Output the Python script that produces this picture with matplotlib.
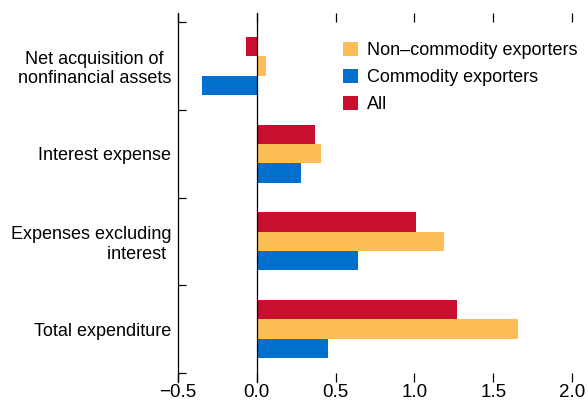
import numpy as np
import matplotlib
matplotlib.use("Agg")
import matplotlib.pyplot as plt
from matplotlib.lines import Line2D

plt.rcParams['font.family'] = ['Liberation Sans', 'DejaVu Sans']

# categories from bottom to top
categories = ['Total expenditure', 'Expenses excluding\ninterest ',
              'Interest expense', 'Net acquisition of\nnonfinancial assets']
label_align = ['center', 'right', 'center', 'center']
all_vals = [1.27, 1.01, 0.37, -0.07]
noncomm_vals = [1.66, 1.19, 0.41, 0.06]
comm_vals = [0.45, 0.64, 0.28, -0.35]
xticks = [-0.5, 0.0, 0.5, 1.0, 1.5, 2.0]
xticklabels = ['\u22120.5', '0.0', '0.5', '1.0', '1.5', '2.0']

red = '#C8102E'
yellow = '#FDBE57'
blue = '#0070CE'

fig = plt.figure(figsize=(5.88, 4.03), dpi=100)
ax = fig.add_axes([178 / 588, 1 - 373 / 403, (572 - 178) / 588, (373 - 22) / 403])

y = np.arange(len(categories))
h = 0.22
ax.barh(y + h, all_vals, height=h, color=red, label='All')
ax.barh(y, noncomm_vals, height=h, color=yellow, label='Non\u2013commodity exporters')
ax.barh(y - h, comm_vals, height=h, color=blue, label='Commodity exporters')

ax.set_xlim(-0.5, 2.0)
ax.set_ylim(-0.5, 3.5)

for s in ['top', 'bottom', 'right', 'left']:
    ax.spines[s].set_visible(False)

# left spine and zero line, extended through the tick marks
ext = 9 / 351
for xv in [-0.5, 0.0]:
    ax.add_line(Line2D([xv, xv], [-ext, 1 + ext], transform=ax.get_xaxis_transform(),
                       color='black', lw=0.9, clip_on=False))

ax.set_xticks(xticks)
ax.set_xticklabels(xticklabels)
ax.tick_params(axis='x', which='both', top=True, bottom=True, direction='out',
               length=6.5, width=0.9, labelsize=13.5, pad=1.5)

ax.set_yticks([-0.5, 0.5, 1.5, 2.5, 3.5])
ax.set_yticklabels([])
ax.tick_params(axis='y', which='major', direction='in', length=5.8, width=0.9)
ax.set_yticks(y, minor=True)
ax.set_yticklabels(categories, minor=True)
ax.tick_params(axis='y', which='minor', length=0, labelsize=13, pad=5)
for lab, al in zip(ax.get_yticklabels(minor=True), label_align):
    lab.set_multialignment(al)

handles, labels = ax.get_legend_handles_labels()
order = [1, 2, 0]
ax.legend([handles[i] for i in order], [labels[i] for i in order],
          loc='upper right', bbox_to_anchor=(1.055, 0.99), frameon=False,
          fontsize=13, handlelength=0.8, handleheight=0.8, handletextpad=0.5,
          labelspacing=0.55)

fig.savefig('out.png', dpi=100)
